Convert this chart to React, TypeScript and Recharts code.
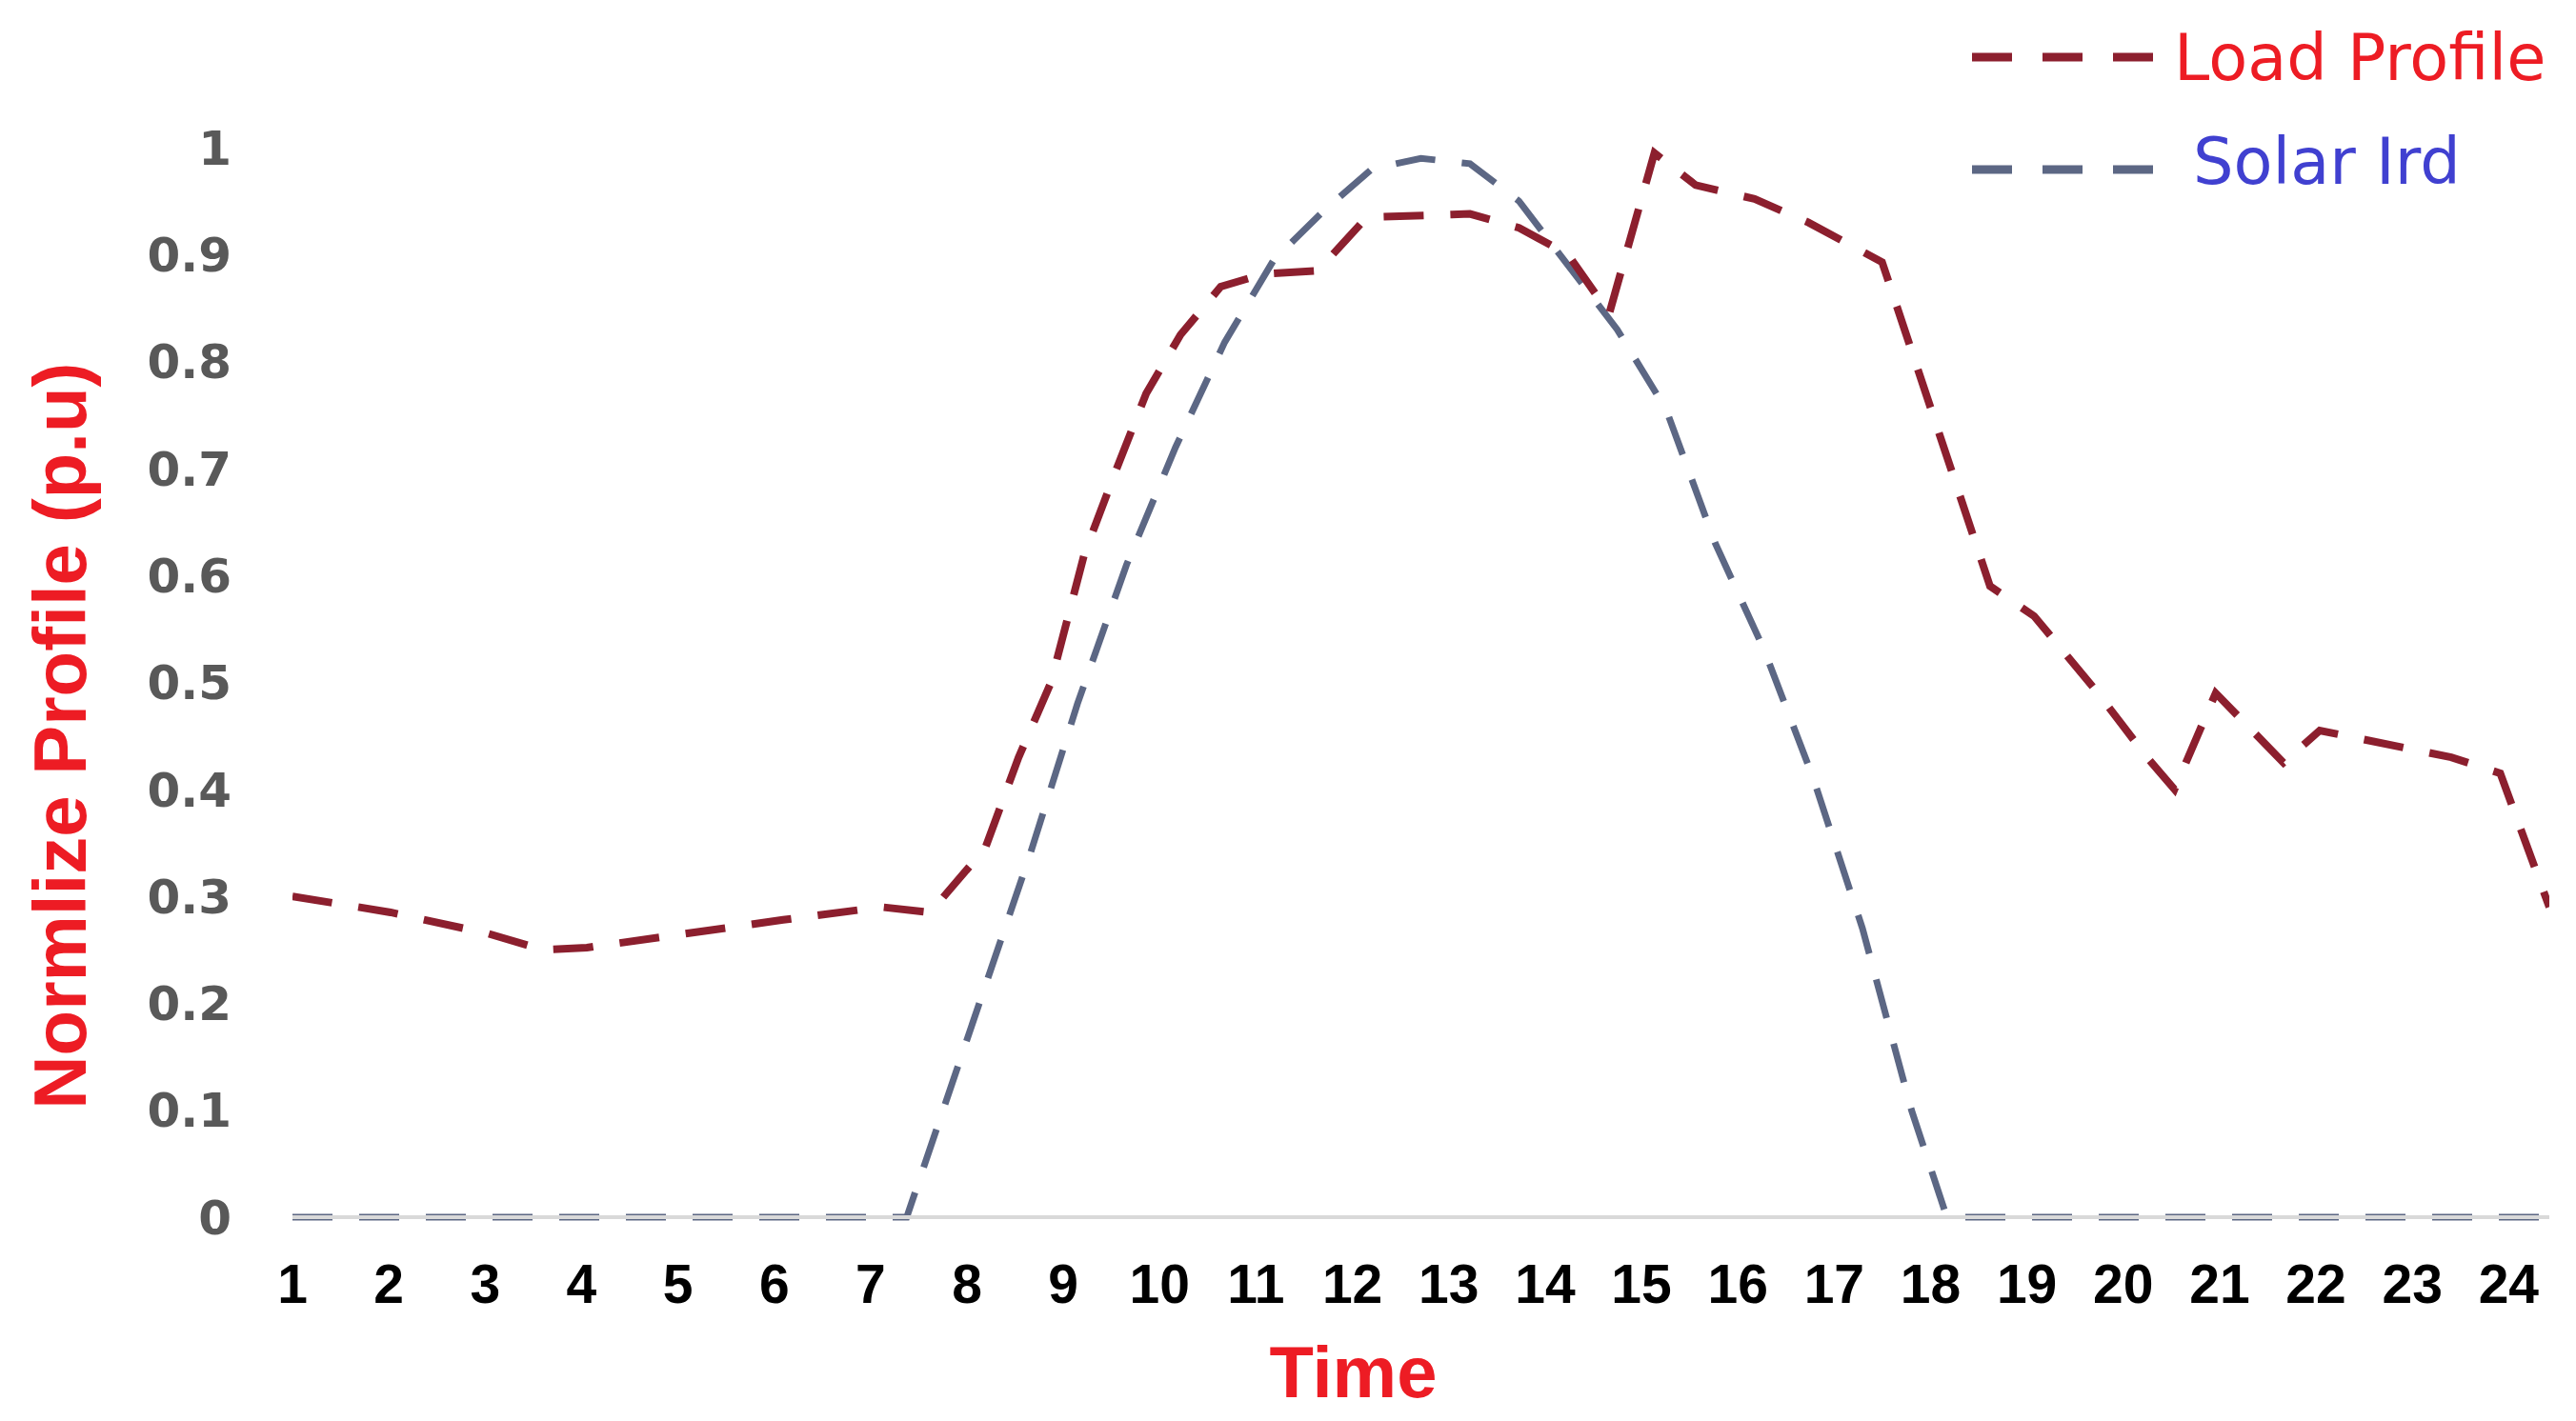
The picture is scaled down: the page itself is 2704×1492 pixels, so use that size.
import { LineChart, Line, XAxis, YAxis, Legend } from 'recharts';

// ---------------------------------------------------------------------------
// Data
// ---------------------------------------------------------------------------
const HOURS = [1, 2, 3, 4, 5, 6, 7, 8, 9, 10, 11, 12, 13, 14, 15, 16, 17, 18, 19, 20, 21, 22, 23, 24];
const Y_TICKS = [0, 0.1, 0.2, 0.3, 0.4, 0.5, 0.6, 0.7, 0.8, 0.9, 1];

const LOAD_TIME = [
  1, 2, 3, 3.55, 4, 5, 6, 7, 7.5, 8.06, 8.4, 8.73, 9.07, 9.4, 9.7, 10.05, 10.46, 10.9,
  11.45, 11.95, 13, 13.5, 14, 14.42, 14.88, 15.3, 15.9, 16.45, 17.2, 18.3, 18.75, 19.4,
  19.9, 20.18, 20.6, 21.29, 21.66, 23, 23.5, 24,
];
const LOAD_VALUE = [
  0.3, 0.285, 0.265, 0.25, 0.252, 0.265, 0.278, 0.29, 0.285, 0.345, 0.43, 0.5, 0.62, 0.7, 0.77, 0.825, 0.87, 0.882,
  0.885, 0.935, 0.938, 0.925, 0.9, 0.845, 0.995, 0.965, 0.952, 0.93, 0.893, 0.59, 0.562, 0.49,
  0.43, 0.4, 0.49, 0.425, 0.455, 0.43, 0.415, 0.29,
];

const SOLAR_TIME = [
  1, 7.26, 8, 8.52, 9, 9.5, 10, 10.5, 11, 11.5, 12, 12.5, 13, 13.5, 14, 14.5, 15, 15.5,
  16, 16.5, 17, 17.5, 17.86, 24,
];
const SOLAR_VALUE = [
  0, 0, 0.2, 0.34, 0.48, 0.61, 0.72, 0.818, 0.895, 0.94, 0.98, 0.99, 0.985, 0.95, 0.89, 0.83, 0.755, 0.63,
  0.53, 0.41, 0.27, 0.1, 0, 0,
];

const loadData = LOAD_TIME.map((t, i) => ({ t, value: LOAD_VALUE[i] }));
const solarData = SOLAR_TIME.map((t, i) => ({ t, value: SOLAR_VALUE[i] }));

// ---------------------------------------------------------------------------
// Style constants
// ---------------------------------------------------------------------------
const LOAD_COLOR = '#8c1f2e';
const SOLAR_COLOR = '#5c6784';
const TITLE_RED = '#ed1c24';
const SOLAR_TEXT = '#4040d0';
const AXIS_GRAY = '#d9d9d9';
const DASH = '42 28';
const ARIAL = "'Liberation Sans', Arial, sans-serif";
const PLOT_LEFT = 307;
// the hour labels in the original sit slightly tighter than the plotted line
const LABEL_SQUEEZE = 0.982;

const LEGEND_TEXT: Record<string, { fill: string; dx: number }> = {
  'Load Profile': { fill: TITLE_RED, dx: 242 },
  'Solar Ird': { fill: SOLAR_TEXT, dx: 262 },
};
const LEGEND_ORDER = ['Load Profile', 'Solar Ird'];
const LEGEND_ROWS = [{ line: 60, text: 84 }, { line: 178, text: 193 }];

function renderLegend(props: any) {
  const payload = [...(props.payload ?? [])].sort(
    (a: any, b: any) => LEGEND_ORDER.indexOf(a.value) - LEGEND_ORDER.indexOf(b.value),
  );
  return (
    <svg width={664} height={220}>
      {payload.map((entry: any, i: number) => {
        const row = LEGEND_ROWS[i];
        const txt = LEGEND_TEXT[entry.value];
        return (
          <g key={entry.value}>
            <line
              x1={30}
              x2={222}
              y1={row.line}
              y2={row.line}
              stroke={entry.color}
              strokeWidth={9}
              strokeDasharray="42 32"
            />
            <text x={txt.dx} y={row.text} fill={txt.fill} fontSize={67} fontFamily="'DejaVu Sans', sans-serif">
              {entry.value}
            </text>
          </g>
        );
      })}
    </svg>
  );
}

function HourTick({ x, y, payload }: any) {
  const tx = PLOT_LEFT + (x - PLOT_LEFT) * LABEL_SQUEEZE;
  return (
    <text
      x={tx}
      y={y}
      dy="0.71em"
      textAnchor="middle"
      fill="#000"
      fontSize={57}
      fontWeight={700}
      fontFamily={ARIAL}
    >
      {payload.value}
    </text>
  );
}

function YTitle({ viewBox }: any) {
  const cx = 90;
  const cy = viewBox.y + viewBox.height * 0.55;
  return (
    <text
      x={cx}
      y={cy}
      transform={`rotate(-90, ${cx}, ${cy})`}
      textAnchor="middle"
      fill={TITLE_RED}
      fontSize={78}
      fontWeight={700}
      fontFamily={ARIAL}
    >
      Normlize Profile (p.u)
    </text>
  );
}

function XTitle({ viewBox }: any) {
  return (
    <text
      x={viewBox.x + viewBox.width * 0.47}
      y={viewBox.y + 189}
      textAnchor="middle"
      fill={TITLE_RED}
      fontSize={76}
      fontWeight={700}
      fontFamily={ARIAL}
    >
      Time
    </text>
  );
}

export default function App() {
  return (
    <div style={{ position: 'absolute', left: 0, top: 0, width: 2704, height: 1492, background: '#fff' }}>
      <LineChart width={2704} height={1492} margin={{ top: 155, right: 28, bottom: 0, left: 0 }}>
        <XAxis
          dataKey="t"
          type="number"
          domain={[1, 24]}
          ticks={HOURS}
          interval={0}
          allowDataOverflow
          height={214}
          tickLine={false}
          tickSize={0}
          tickMargin={50}
          axisLine={{ stroke: AXIS_GRAY, strokeWidth: 4 }}
          tick={<HourTick />}
          label={<XTitle />}
        />
        <YAxis
          type="number"
          domain={[0, 1]}
          ticks={Y_TICKS}
          interval={0}
          width={PLOT_LEFT}
          axisLine={false}
          tickLine={false}
          tickSize={0}
          tickMargin={64}
          tick={{ fill: '#595959', fontSize: 50, fontWeight: 700, fontFamily: "'DejaVu Sans', sans-serif" }}
          tickFormatter={(v: number) => (v === 0 || v === 1 ? String(v) : v.toFixed(1))}
          label={<YTitle />}
        />
        <Legend
          layout="horizontal"
          verticalAlign="middle"
          content={renderLegend}
          wrapperStyle={{ left: 2040, top: 0, width: 664, height: 220 }}
        />
        <Line
          data={solarData}
          dataKey="value"
          name="Solar Ird"
          type="linear"
          stroke={SOLAR_COLOR}
          strokeWidth={7}
          strokeDasharray={DASH}
          dot={false}
          activeDot={false}
          isAnimationActive={false}
        />
        <Line
          data={loadData}
          dataKey="value"
          name="Load Profile"
          type="linear"
          stroke={LOAD_COLOR}
          strokeWidth={8}
          strokeDasharray={DASH}
          dot={false}
          activeDot={false}
          isAnimationActive={false}
        />
      </LineChart>
    </div>
  );
}
